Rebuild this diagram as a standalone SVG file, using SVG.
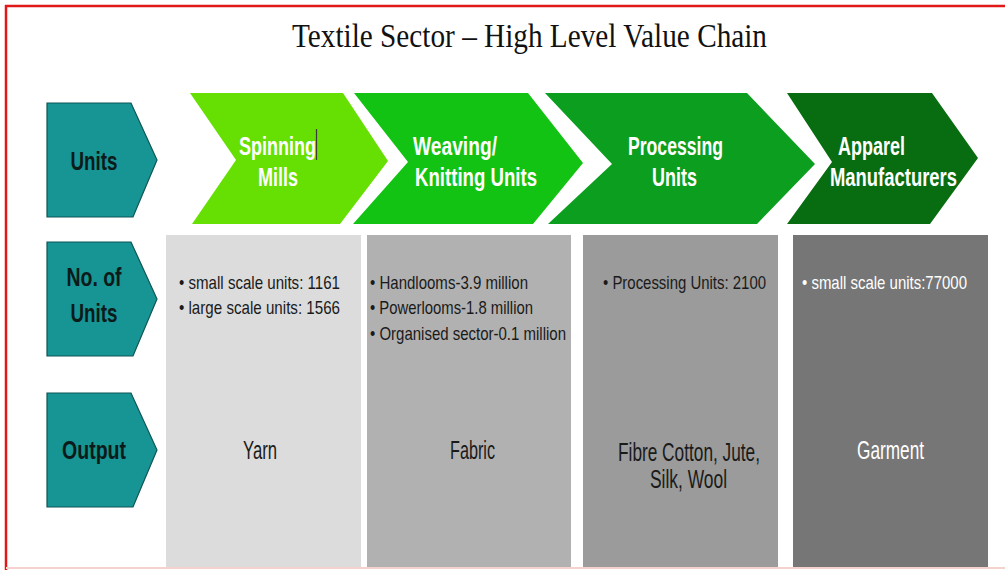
<svg xmlns="http://www.w3.org/2000/svg" width="1005" height="570" viewBox="0 0 1005 570">
  <style>
    .title { font-family: "Liberation Serif", "DejaVu Serif", serif; font-size: 34px; fill: #111; }
    .rowlbl { font-family: "Liberation Sans Narrow", "Liberation Sans", sans-serif; font-weight: bold; font-size: 26px; fill: #0c1a1a; text-anchor: middle; }
    .stage { font-family: "Liberation Sans Narrow", "Liberation Sans", sans-serif; font-weight: bold; font-size: 25px; fill: #ffffff; }
    .item { font-family: "Liberation Sans Narrow", "Liberation Sans", sans-serif; font-size: 19px; fill: #1a1a1a; }
    .out { font-family: "Liberation Sans Narrow", "Liberation Sans", sans-serif; font-size: 25px; fill: #1a1a1a; }
    .light { fill: #ffffff; }
    .pent { fill: #179494; stroke: #0f5656; stroke-width: 1.2; }
  </style>

  <!-- page background and frame -->
  <rect x="0" y="0" width="1005" height="570" fill="#ffffff"/>
  <line x1="5" y1="6" x2="1005" y2="6" stroke="#e01818" stroke-width="2.5"/>
  <line x1="6" y1="5" x2="6" y2="570" stroke="#e01818" stroke-width="2.5"/>
  <line x1="6" y1="568" x2="1005" y2="568" stroke="#f6d2cc" stroke-width="2"/>

  <text class="title" x="292" y="47" textLength="475" lengthAdjust="spacingAndGlyphs">Textile Sector – High Level Value Chain</text>

  <!-- row headers -->
  <g id="hdr-units">
    <polygon class="pent" points="47,103 131,103 157,160 133,217 47,217"/>
    <text class="rowlbl" x="94" y="170" textLength="47" lengthAdjust="spacingAndGlyphs">Units</text>
  </g>
  <g id="hdr-count">
    <polygon class="pent" points="47,242 131,242 157,299 133,356 47,356"/>
    <text class="rowlbl" x="94" y="286" textLength="55" lengthAdjust="spacingAndGlyphs">No. of</text>
    <text class="rowlbl" x="94" y="322" textLength="47" lengthAdjust="spacingAndGlyphs">Units</text>
  </g>
  <g id="hdr-output">
    <polygon class="pent" points="47,393 131,393 157,450 133,507 47,507"/>
    <text class="rowlbl" x="94" y="459" textLength="64" lengthAdjust="spacingAndGlyphs">Output</text>
  </g>

  <!-- value chain stages -->
  <g id="stage-spinning">
    <polygon points="190,93 343,93 388,161 340,224 192,224 236,160" fill="#66df02"/>
    <text class="stage" x="239" y="155" textLength="77" lengthAdjust="spacingAndGlyphs">Spinning</text>
    <text class="stage" x="258" y="186" textLength="40" lengthAdjust="spacingAndGlyphs">Mills</text>
    <line x1="316.5" y1="129" x2="316.5" y2="160" stroke="#3a3a3a" stroke-width="1.2"/>
  </g>
  <g id="stage-weaving">
    <polygon points="354,93 528,93 583,163 533,224 353,224 408,162" fill="#13c313"/>
    <text class="stage" x="413" y="155" textLength="84" lengthAdjust="spacingAndGlyphs">Weaving/</text>
    <text class="stage" x="415" y="186" textLength="122" lengthAdjust="spacingAndGlyphs">Knitting Units</text>
  </g>
  <g id="stage-processing">
    <polygon points="545,93 747,93 815,164 757,224 548,224 612,164" fill="#0c9e1e"/>
    <text class="stage" x="628" y="155" textLength="95" lengthAdjust="spacingAndGlyphs">Processing</text>
    <text class="stage" x="652" y="186" textLength="45" lengthAdjust="spacingAndGlyphs">Units</text>
  </g>
  <g id="stage-apparel">
    <polygon points="787,93 932,93 978,158 930,224 787,224 832,162" fill="#086d10"/>
    <text class="stage" x="838" y="155" textLength="67" lengthAdjust="spacingAndGlyphs">Apparel</text>
    <text class="stage" x="830" y="186" textLength="127" lengthAdjust="spacingAndGlyphs">Manufacturers</text>
  </g>

  <!-- detail columns -->
  <g id="col-spinning">
    <rect x="166" y="235" width="195" height="332" fill="#dcdcdc"/>
    <text class="item" x="179" y="289" textLength="161" lengthAdjust="spacingAndGlyphs">• small scale units: 1161</text>
    <text class="item" x="179" y="314" textLength="161" lengthAdjust="spacingAndGlyphs">• large scale units: 1566</text>
    <text class="out" x="243" y="459" textLength="34" lengthAdjust="spacingAndGlyphs">Yarn</text>
  </g>
  <g id="col-weaving">
    <rect x="367" y="235" width="204" height="332" fill="#b1b1b1"/>
    <text class="item" x="370" y="289" textLength="158" lengthAdjust="spacingAndGlyphs">• Handlooms-3.9 million</text>
    <text class="item" x="370" y="314" textLength="163" lengthAdjust="spacingAndGlyphs">• Powerlooms-1.8 million</text>
    <text class="item" x="370" y="340" textLength="196" lengthAdjust="spacingAndGlyphs">• Organised sector-0.1 million</text>
    <text class="out" x="450" y="459" textLength="45" lengthAdjust="spacingAndGlyphs">Fabric</text>
  </g>
  <g id="col-processing">
    <rect x="583" y="235" width="195" height="332" fill="#9b9b9b"/>
    <text class="item" x="603" y="289" textLength="163" lengthAdjust="spacingAndGlyphs">• Processing Units: 2100</text>
    <text class="out" x="618" y="461" textLength="142" lengthAdjust="spacingAndGlyphs">Fibre Cotton, Jute,</text>
    <text class="out" x="650" y="488" textLength="77" lengthAdjust="spacingAndGlyphs">Silk, Wool</text>
  </g>
  <g id="col-apparel">
    <rect x="793" y="235" width="195" height="332" fill="#767676"/>
    <text class="item light" x="802" y="289" font-size="16" textLength="165" lengthAdjust="spacingAndGlyphs">• small scale units:77000</text>
    <text class="out light" x="857" y="459" textLength="67" lengthAdjust="spacingAndGlyphs">Garment</text>
  </g>

  <!-- no connectors: stages are chained by their chevron shapes -->
  <g id="connectors"/>
</svg>
